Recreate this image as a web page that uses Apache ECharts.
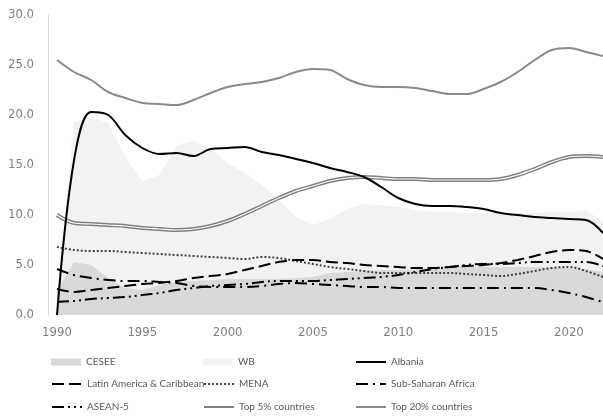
<!DOCTYPE html>
<html><head><meta charset="utf-8">
<script src="https://cdn.jsdelivr.net/npm/echarts@6/dist/echarts.min.js"></script>
<style>html,body{margin:0;padding:0;background:#fff}#c{width:603px;height:419px}</style>
</head><body><div id="c"></div>
<script>
const years = [];
for (let y = 1990; y <= 2022; y++) years.push(String(y));
const yTicks = [0, 5, 10, 15, 20, 25, 30];

const cesee = [2.5,5.3,5.0,3.7,2.7,2.5,3.0,3.3,3.4,3.5,3.6,3.6,3.6,3.6,3.7,3.8,4.2,4.3,4.4,4.5,4.5,4.6,4.7,4.8,4.8,4.8,4.8,4.8,4.8,4.8,4.7,4.6,4.3];
const wb = [1.5,19.3,19.8,19.2,15.8,13.4,14.0,16.9,17.4,16.6,15.2,14.2,13.0,11.5,9.8,9.0,9.6,10.6,11.1,11.0,10.8,10.5,10.3,10.3,10.2,10.2,10.2,10.2,10.2,10.3,10.3,10.5,9.3];
const albania = [0,15.5,20.3,20.0,18.0,16.7,16.1,16.2,15.9,16.6,16.7,16.8,16.3,16.0,15.6,15.2,14.7,14.3,13.8,12.8,11.7,11.1,10.9,10.9,10.8,10.6,10.2,10.0,9.8,9.7,9.6,9.5,8.2];
const latam = [2.6,2.3,2.5,2.7,2.9,3.1,3.2,3.4,3.7,3.9,4.1,4.5,4.9,5.3,5.5,5.5,5.3,5.2,5.0,4.9,4.8,4.7,4.7,4.8,4.9,5.0,5.2,5.5,5.9,6.3,6.5,6.4,5.6];
const mena = [6.8,6.5,6.4,6.4,6.3,6.2,6.1,6.0,5.9,5.8,5.7,5.6,5.8,5.7,5.4,5.1,4.8,4.6,4.4,4.2,4.2,4.2,4.2,4.2,4.1,4.0,3.9,4.1,4.4,4.7,4.8,4.4,3.8];
const ssa = [4.6,4.0,3.7,3.5,3.4,3.4,3.3,3.2,2.9,2.8,2.8,2.8,2.9,3.1,3.2,3.1,3.0,2.9,2.8,2.8,2.7,2.7,2.7,2.7,2.7,2.7,2.7,2.7,2.7,2.5,2.2,1.8,1.3];
const asean = [1.3,1.4,1.6,1.7,1.8,2.0,2.2,2.5,2.7,2.9,3.0,3.1,3.3,3.4,3.4,3.4,3.5,3.6,3.7,3.8,4.0,4.3,4.6,4.8,5.0,5.1,5.1,5.2,5.3,5.3,5.3,5.3,4.9];
const top5 = [10.0,9.2,9.1,9.0,8.9,8.7,8.6,8.5,8.6,8.9,9.4,10.1,10.9,11.7,12.4,12.9,13.4,13.7,13.8,13.7,13.6,13.6,13.5,13.5,13.5,13.5,13.6,14.0,14.6,15.3,15.8,15.9,15.8];
const top20 = [25.5,24.3,23.5,22.3,21.7,21.2,21.1,21.0,21.5,22.2,22.8,23.1,23.3,23.7,24.3,24.6,24.5,23.6,23.0,22.8,22.8,22.7,22.4,22.1,22.1,22.6,23.3,24.3,25.5,26.5,26.7,26.3,25.9];

const chart = echarts.init(document.getElementById('c'));
const SM = 0.35;
const tickFont = "'DejaVu Sans Condensed', 'Liberation Sans', sans-serif";
function area(name, data, color) {
  return {name, type:'line', data, symbol:'none', smooth:false, color,
    itemStyle:{color}, lineStyle:{width:0, color}, areaStyle:{color, opacity:1}, z:1};
}
function line(name, data, color, width, type, z) {
  return {name, type:'line', data, symbol:'none', smooth:SM, color,
    itemStyle:{color}, lineStyle:{width, color, type, cap:'butt'}, z:z||3};
}
const legendFont = {fontFamily:'Lato, sans-serif', fontSize:10, color:'#595959', lineHeight:14};
const cols = [51, 203, 355], rows = [355, 377, 400];
const legendNames = [
  ['CESEE','WB','Albania'],
  ['Latin America & Caribbean','MENA','Sub-Saharan Africa'],
  ['ASEAN-5','Top 5% countries','Top 20% countries']
];
const legends = [];
legendNames.forEach((r, ri) => r.forEach((n, ci) => {
  const isArea = (n === 'CESEE' || n === 'WB');
  const d = isArea ? {name:n, icon:'rect', itemStyle:{color: n === 'CESEE' ? '#d9d9d9' : '#f2f2f2'}} : {name:n};
  const lg = {data:[d], left:cols[ci], top:rows[ri], itemWidth:30, itemHeight:7,
    padding:0, textStyle:legendFont, selectedMode:false};
  if (!isArea) lg.itemStyle = {opacity:0};
  legends.push(lg);
}));

chart.setOption({
  animation:false,
  backgroundColor:'#fff',
  grid:{left:57, right:0, top:15, bottom:104},
  legend: legends,
  xAxis:{type:'category', data:years, boundaryGap:false,
    axisLine:{show:false}, axisTick:{show:false}, splitLine:{show:false},
    axisLabel:{interval:4, margin:11, color:'#7f7f7f', fontSize:13, fontFamily:tickFont}},
  yAxis:{type:'value', min:yTicks[0], max:yTicks[yTicks.length-1], interval:5, offset:9,
    axisLine:{show:true, lineStyle:{color:'#d9d9d9', width:1}}, axisTick:{show:false},
    splitLine:{show:false},
    axisLabel:{margin:14, color:'#7f7f7f', fontSize:13, fontFamily:tickFont,
      formatter:v => v.toFixed(1)}},
  series:[
    area('WB', wb, '#f2f2f2'),
    area('CESEE', cesee, '#d9d9d9'),
    line('Top 5% countries', top5, '#7f7f7f', 4, 'solid', 3),
    {name:'Top 5% countries', type:'line', data:top5, symbol:'none', smooth:SM,
      lineStyle:{width:1.2, color:'#ffffff'}, itemStyle:{color:'#ffffff'}, z:4},
    line('Top 20% countries', top20, '#8a8a8a', 2, 'solid', 3),
    line('MENA', mena, '#404040', 2, [2,2], 5),
    line('ASEAN-5', asean, '#000000', 2, [12,4,2,4,2,4], 5),
    line('Sub-Saharan Africa', ssa, '#000000', 2, [12,5,2,5], 5),
    line('Latin America & Caribbean', latam, '#000000', 2, [12,5], 5),
    line('Albania', albania, '#000000', 2, 'solid', 6)
  ]
});
</script></body></html>
